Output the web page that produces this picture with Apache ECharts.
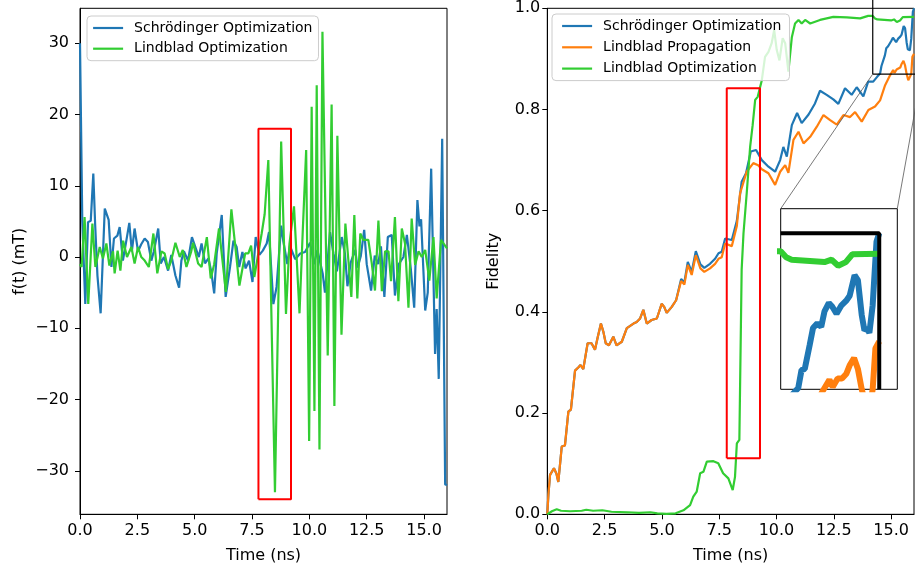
<!DOCTYPE html>
<html>
<head>
<meta charset="utf-8">
<title>Control field and fidelity</title>
<script src="https://cdn.jsdelivr.net/npm/echarts@6/dist/echarts.min.js"></script>
<style>
  html, body { margin: 0; padding: 0; background: #fff; }
  #chart { width: 915px; height: 567px; }
</style>
</head>
<body>
<div id="chart"></div>
<script>
// ---- values ----
var timeTicks = [0, 2.5, 5, 7.5, 10, 12.5, 15];
var fieldTicks = [-30, -20, -10, 0, 10, 20, 30];
var fidTicks = [0, 0.2, 0.4, 0.6, 0.8, 1.0];

// left panel, f(t) in mT
var tSchField = [0, 0.1, 0.23, 0.35, 0.47, 0.58, 0.66, 0.76, 0.9, 1.08, 1.25, 1.37, 1.48, 1.63, 1.73, 1.87, 2.02, 2.15, 2.26, 2.38, 2.53, 2.67, 2.82, 2.96, 3.11, 3.22, 3.41, 3.52, 3.66, 3.84, 3.98, 4.16, 4.32, 4.42, 4.53, 4.71, 4.88, 5.03, 5.18, 5.3, 5.45, 5.6, 5.72, 5.85, 5.96, 6.18, 6.35, 6.54, 6.69, 6.83, 6.94, 7.08, 7.22, 7.37, 7.52, 7.66, 7.82, 7.97, 8.14, 8.24, 8.43, 8.57, 8.77, 8.87, 9.04, 9.15, 9.38, 9.6, 9.81, 10.03, 10.2, 10.35, 10.58, 10.68, 10.9, 11.05, 11.2, 11.41, 11.55, 11.66, 11.8, 12.0, 12.1, 12.24, 12.39, 12.5, 12.69, 12.85, 13.0, 13.12, 13.27, 13.42, 13.59, 13.73, 13.9, 14.1, 14.25, 14.42, 14.57, 14.71, 14.8, 14.87, 15.05, 15.16, 15.31, 15.48, 15.55, 15.64, 15.79, 15.92, 16.0];
var vSchField = [30, 5, -6.6, 4.9, 5.1, 11.7, 4.6, -2.6, -7.9, 6.8, 5.2, -1.4, 2.6, 3.0, 4.2, -0.5, 2.3, 4.8, 0.8, 4.0, 0.8, 1.8, 2.6, 2.1, -0.5, 0.8, 4.0, -0.9, 0, -1.9, 0.3, -2.6, -4.3, -0.5, 0.8, -0.5, 2.8, 1.4, 0, 1.9, -0.9, -0.2, -2.0, -5.1, 0.5, 5.9, -5.6, -1.4, 2.3, 1.4, -1.4, 0.7, -1.6, -0.5, -3.5, 2.8, 0.3, 0.9, 1.9, 3.5, -6.6, -4.2, 4.4, 2.1, -1.0, 1.6, -0.3, 0.5, 0.7, 2.0, -1.0, 1.0, -2.3, -5.0, 3.5, 0.5, -2.0, 2.8, 0.5, -4.1, -0.8, 1.0, -1.5, 0.1, 3.8, -1.0, -4.7, 0.2, -1.0, 1.5, -5.6, 2.8, 3.1, -5.4, -1.0, 0, 3.1, -1.6, -7.1, 8.0, 4.3, 5.3, -7.5, -5.0, 12.4, -13.6, -7.3, -17.1, 16.6, -31.9, -32];

var tLinField = [0, 0.07, 0.2, 0.36, 0.54, 0.67, 0.86, 1.0, 1.15, 1.28, 1.44, 1.51, 1.64, 1.76, 1.88, 2.05, 2.24, 2.38, 2.53, 2.67, 2.82, 3.0, 3.2, 3.37, 3.55, 3.69, 3.84, 3.98, 4.16, 4.35, 4.48, 4.64, 4.85, 4.93, 5.15, 5.3, 5.53, 5.7, 5.85, 6.06, 6.36, 6.6, 6.95, 7.2, 7.34, 7.46, 7.6, 7.92, 8.05, 8.21, 8.5, 8.77, 8.98, 9.13, 9.33, 9.57, 9.71, 9.86, 9.99, 10.1, 10.22, 10.32, 10.44, 10.57, 10.8, 10.97, 11.09, 11.22, 11.4, 11.57, 11.83, 11.96, 12.09, 12.22, 12.35, 12.57, 12.72, 12.86, 13.01, 13.16, 13.3, 13.45, 13.56, 13.73, 13.88, 14.03, 14.17, 14.32, 14.46, 14.61, 14.76, 14.9, 15.05, 15.23, 15.41, 15.55, 15.74, 15.96, 16.0];
var vLinField = [-1.0, -1.4, 5.6, -6.6, 4.7, -1.4, 1.4, -0.2, 1.9, -1.2, 0.8, -2.3, 0.9, -1.9, 2.3, 0, 1.4, -0.9, 1.4, 0, -0.5, -1.4, 3.3, -2.3, 0.8, 0.5, -1.7, -0.5, 2.0, 0, 1.0, -1.4, 0.8, 2.0, -0.9, -1.4, 2.8, -3.0, -1.0, 4.0, -4.9, 6.7, -4.0, 0.5, 0.5, 1.6, -2.8, 3.3, 6.0, 13.6, -33.0, 16.2, -8.0, 1.8, 7.1, -7.9, 3.5, 15.0, -25.8, 21.1, -21.6, 24.1, -27.0, 31.6, -13.8, 21.4, -20.9, 17.0, -10.9, 4.7, -5.6, 5.9, -5.8, 3.3, 2.4, 2.4, -0.9, -4.7, 5.1, -4.8, 0.8, 0.8, -3.4, 5.6, -6.2, 4.0, 1.9, -7.1, 5.4, -1.1, 0.8, 0.0, 1.0, -3.3, 2.8, -5.8, 2.4, 1.4, 1.2];

// right panel, fidelity
var tSchFid = [0, 0.05, 0.12, 0.29, 0.4, 0.48, 0.58, 0.63, 0.77, 0.92, 1.03, 1.21, 1.35, 1.45, 1.57, 1.76, 1.93, 2.08, 2.2, 2.34, 2.45, 2.55, 2.69, 2.88, 3.02, 3.25, 3.47, 3.6, 3.76, 3.9, 4.05, 4.12, 4.19, 4.34, 4.55, 4.78, 4.99, 5.1, 5.21, 5.43, 5.62, 5.84, 5.98, 6.13, 6.3, 6.48, 6.68, 6.85, 7.1, 7.32, 7.47, 7.61, 7.76, 8.05, 8.27, 8.48, 8.67, 8.88, 9.11, 9.36, 9.65, 9.94, 10.16, 10.3, 10.45, 10.67, 10.9, 11.1, 11.4, 11.68, 11.9, 12.19, 12.48, 12.7, 12.99, 13.28, 13.5, 13.79, 14.0, 14.22, 14.4, 14.52, 14.58, 14.64, 14.73, 14.79, 14.87, 14.94, 15.0, 15.08, 15.14, 15.22, 15.31, 15.4, 15.46, 15.55, 15.61, 15.68, 15.73, 15.78, 15.82, 15.88, 15.95, 16.0];
var vSchFid = [0, 0.04, 0.078, 0.091, 0.08, 0.064, 0.11, 0.134, 0.136, 0.203, 0.207, 0.284, 0.29, 0.295, 0.287, 0.338, 0.338, 0.325, 0.35, 0.377, 0.36, 0.338, 0.334, 0.351, 0.334, 0.341, 0.368, 0.372, 0.377, 0.38, 0.387, 0.385, 0.404, 0.377, 0.384, 0.387, 0.416, 0.41, 0.398, 0.41, 0.423, 0.465, 0.458, 0.499, 0.479, 0.52, 0.494, 0.487, 0.495, 0.505, 0.516, 0.519, 0.545, 0.542, 0.58, 0.657, 0.674, 0.717, 0.72, 0.70, 0.687, 0.677, 0.70, 0.726, 0.707, 0.769, 0.793, 0.773, 0.79, 0.812, 0.837, 0.829, 0.82, 0.811, 0.842, 0.829, 0.844, 0.826, 0.855, 0.855, 0.865, 0.871, 0.886, 0.887, 0.907, 0.921, 0.925, 0.922, 0.935, 0.942, 0.939, 0.933, 0.940, 0.944, 0.948, 0.965, 0.961, 0.932, 0.919, 0.921, 0.917, 0.94, 0.993, 1.0];

var tPropFid = [0, 0.05, 0.12, 0.29, 0.4, 0.48, 0.58, 0.63, 0.77, 0.92, 1.03, 1.21, 1.35, 1.45, 1.57, 1.76, 1.93, 2.08, 2.2, 2.34, 2.45, 2.55, 2.69, 2.88, 3.02, 3.25, 3.47, 3.6, 3.76, 3.9, 4.05, 4.12, 4.19, 4.34, 4.55, 4.78, 4.99, 5.1, 5.21, 5.43, 5.62, 5.84, 5.98, 6.13, 6.3, 6.48, 6.68, 6.85, 7.1, 7.32, 7.47, 7.61, 7.76, 8.05, 8.27, 8.41, 8.7, 8.99, 9.2, 9.36, 9.65, 9.94, 10.16, 10.38, 10.52, 10.74, 10.96, 11.18, 11.47, 11.76, 12.05, 12.34, 12.63, 12.92, 13.21, 13.43, 13.72, 14.01, 14.3, 14.52, 14.74, 14.96, 15.09, 15.15, 15.24, 15.32, 15.4, 15.46, 15.54, 15.61, 15.68, 15.75, 15.83, 15.88, 15.93, 16.0];
var vPropFid = [0, 0.04, 0.078, 0.091, 0.08, 0.064, 0.11, 0.134, 0.136, 0.203, 0.207, 0.284, 0.29, 0.295, 0.287, 0.338, 0.338, 0.325, 0.35, 0.377, 0.36, 0.338, 0.334, 0.351, 0.334, 0.341, 0.368, 0.372, 0.377, 0.38, 0.387, 0.385, 0.404, 0.377, 0.384, 0.387, 0.416, 0.41, 0.398, 0.41, 0.423, 0.461, 0.454, 0.493, 0.473, 0.512, 0.486, 0.479, 0.486, 0.495, 0.505, 0.508, 0.535, 0.53, 0.57, 0.634, 0.677, 0.694, 0.69, 0.682, 0.674, 0.651, 0.677, 0.69, 0.675, 0.74, 0.756, 0.733, 0.746, 0.766, 0.789, 0.779, 0.77, 0.789, 0.785, 0.795, 0.776, 0.799, 0.806, 0.818, 0.848, 0.868, 0.878, 0.872, 0.879, 0.879, 0.883, 0.89, 0.896, 0.887, 0.87, 0.858, 0.855, 0.87, 0.904, 0.91];

var tLinFid = [0, 0.2, 0.41, 0.6, 1.0, 1.5, 1.7, 2.0, 2.4, 2.8, 3.5, 4.0, 4.5, 4.8, 5.2, 5.6, 5.94, 6.23, 6.37, 6.52, 6.67, 6.81, 6.96, 7.25, 7.46, 7.67, 7.9, 8.09, 8.19, 8.27, 8.38, 8.48, 8.56, 8.7, 8.85, 8.96, 9.07, 9.18, 9.36, 9.5, 9.65, 9.79, 9.9, 10.01, 10.13, 10.27, 10.38, 10.52, 10.67, 10.81, 10.96, 11.1, 11.25, 11.47, 11.9, 12.48, 13.07, 13.65, 14.0, 14.2, 14.3, 14.4, 15.0, 15.13, 15.25, 15.39, 15.51, 16.0];
var vLinFid = [0, 0.006, 0.01, 0.007, 0.006, 0.007, 0.009, 0.007, 0.008, 0.005, 0.004, 0.003, 0.004, 0.002, 0.001, 0.002, 0.008, 0.018, 0.035, 0.045, 0.081, 0.084, 0.104, 0.105, 0.101, 0.081, 0.071, 0.048, 0.074, 0.14, 0.147, 0.483, 0.555, 0.634, 0.726, 0.769, 0.819, 0.825, 0.858, 0.904, 0.914, 0.931, 0.957, 0.918, 0.897, 0.941, 0.931, 0.875, 0.943, 0.97, 0.977, 0.97, 0.977, 0.97, 0.977, 0.983, 0.982, 0.98, 0.985, 0.985, 0.98, 0.978, 0.976, 0.978, 0.973, 0.976, 0.9825, 0.983];

// highlighted windows and the zoomed region (data coordinates)
var redBoxFieldX = [7.78, 9.2];
var redBoxFieldY = [-34, 18];
var redBoxFidX = [7.83, 9.28];
var redBoxFidY = [0.111, 0.842];
var zoomX = [14.2, 16.33];
var zoomY = [0.87, 1.0205];

function zip(t, v) {
  return t.map(function (x, i) { return [x, v[i]]; });
}
function rect(xr, yr) {
  return [[xr[0], yr[0]], [xr[1], yr[0]], [xr[1], yr[1]], [xr[0], yr[1]], [xr[0], yr[0]]];
}

var FONT = 'DejaVu Sans';
var BLUE = '#1f77b4', ORANGE = '#ff7f0e', GREEN = '#32cd32';
var insetGrid = { left: 780.7, top: 208.7, width: 116.6, height: 180.6 };

function fmtNum(d) {
  return function (v) { return v.toFixed(d).replace('-', '\u2212'); };
}
function xAxisFor(gi) {
  return {
    type: 'value', gridIndex: gi, min: 0, max: 16,
    name: 'Time (ns)', nameLocation: 'middle', nameGap: 34,
    nameTextStyle: { fontFamily: FONT, fontSize: 16, color: '#000' },
    axisLine: { show: true, onZero: false, lineStyle: { color: '#000', width: 1 } },
    axisTick: { show: true, inside: false, length: 5, lineStyle: { color: '#000' }, customValues: timeTicks },
    axisLabel: { customValues: timeTicks, formatter: fmtNum(1), fontFamily: FONT, fontSize: 16, color: '#000', margin: 9 },
    splitLine: { show: false }
  };
}
function yAxisFor(gi, lo, hi, ticks, name, gap, dec, margin) {
  return {
    type: 'value', gridIndex: gi, min: lo, max: hi,
    name: name, nameLocation: 'middle', nameGap: gap,
    nameTextStyle: { fontFamily: FONT, fontSize: 16, color: '#000' },
    axisLine: { show: true, onZero: false, lineStyle: { color: '#000', width: 1 } },
    axisTick: { show: true, inside: false, length: 5, lineStyle: { color: '#000' }, customValues: ticks },
    axisLabel: { customValues: ticks, formatter: fmtNum(dec), fontFamily: FONT, fontSize: 16, color: '#000', margin: margin },
    splitLine: { show: false }
  };
}
function line(name, data, color, width, xi, extra) {
  var s = {
    name: name, type: 'line', data: data, xAxisIndex: xi, yAxisIndex: xi,
    symbol: 'none', showSymbol: false, smooth: false,
    lineStyle: { color: color, width: width }, itemStyle: { color: color },
    emphasis: { disabled: true }, silent: true
  };
  for (var k in extra) s[k] = extra[k];
  return s;
}
function legendAt(left, top, names, pad, gap) {
  return {
    left: left, top: top, orient: 'vertical', data: names,
    itemWidth: 30, itemHeight: 14, itemGap: gap, padding: pad,
    itemStyle: { opacity: 0 },
    lineStyle: { width: 2.2 },
    backgroundColor: 'rgba(255,255,255,0.8)', borderColor: '#cccccc', borderWidth: 1, borderRadius: 4,
    selectedMode: false,
    textStyle: { fontFamily: FONT, fontSize: 14, color: '#000', padding: [0, 0, 0, 6] }
  };
}

var chart = echarts.init(document.getElementById('chart'), null, { renderer: 'canvas' });

chart.setOption({
  animation: false,
  backgroundColor: '#fff',
  legend: [
    legendAt(87, 16, ['Schrödinger Optimization', 'Lindblad Optimization'], [5, 6, 5, 5], 6.7),
    legendAt(552, 14, ['Schrödinger Optimization', 'Lindblad Propagation', 'Lindblad Optimization'], [5, 8, 5, 9], 7.3)
  ],
  grid: [
    { left: 80, top: 8.3, width: 367, height: 506, show: true, borderColor: '#000', borderWidth: 1, outerBoundsMode: 'none' },
    { left: 547.3, top: 8.3, width: 366.7, height: 506, show: true, borderColor: '#000', borderWidth: 1, outerBoundsMode: 'none' },
    { left: insetGrid.left, top: insetGrid.top, width: insetGrid.width, height: insetGrid.height, show: true,
      backgroundColor: '#fff', borderColor: '#000', borderWidth: 1, outerBoundsMode: 'none' }
  ],
  xAxis: [
    xAxisFor(0),
    xAxisFor(1),
    { type: 'value', gridIndex: 2, min: zoomX[0], max: zoomX[1], show: false }
  ],
  yAxis: [
    yAxisFor(0, -36.1, 34.9, fieldTicks, 'f(t) (mT)', 52, 0, 11),
    yAxisFor(1, 0, 1, fidTicks, 'Fidelity', 45, 1, 7),
    { type: 'value', gridIndex: 2, min: zoomY[0], max: zoomY[1], show: false }
  ],
  series: [
    line('Schrödinger Optimization', zip(tSchField, vSchField), BLUE, 2.2, 0),
    line('Lindblad Optimization', zip(tLinField, vLinField), GREEN, 2.2, 0),
    line('window A', rect(redBoxFieldX, redBoxFieldY), '#ff0000', 2, 0),

    line('Schrödinger Optimization', zip(tSchFid, vSchFid), BLUE, 2.2, 1),
    line('Lindblad Propagation', zip(tPropFid, vPropFid), ORANGE, 2.2, 1),
    line('Lindblad Optimization', zip(tLinFid, vLinFid), GREEN, 2.2, 1),
    line('window B', rect(redBoxFidX, redBoxFidY), '#ff0000', 2, 1),
    line('zoom box', rect(zoomX, zoomY), '#000', 1.2, 1, { clip: false }),

    line('inset S', zip(tSchFid, vSchFid), BLUE, 6, 2),
    line('inset P', zip(tPropFid, vPropFid), ORANGE, 6, 2),
    line('inset L', zip(tLinFid, vLinFid), GREEN, 6, 2),
    line('inset frame', [[zoomX[0], 1], [16, 1], [16, zoomY[0]]], '#000', 4, 2)
  ]
});

// connector lines from the zoom box to the inset corners
var pA = chart.convertToPixel({ xAxisIndex: 1, yAxisIndex: 1 }, [zoomX[0], zoomY[0]]);
var pB = chart.convertToPixel({ xAxisIndex: 1, yAxisIndex: 1 }, [zoomX[1], zoomY[0]]);
chart.setOption({
  graphic: [
    { type: 'line', silent: true, z: 5,
      shape: { x1: pA[0], y1: pA[1], x2: insetGrid.left, y2: insetGrid.top },
      style: { stroke: '#555', lineWidth: 0.8 } },
    { type: 'line', silent: true, z: 5,
      shape: { x1: pB[0], y1: pB[1], x2: insetGrid.left + insetGrid.width, y2: insetGrid.top },
      style: { stroke: '#555', lineWidth: 0.8 } }
  ]
});
</script>
</body>
</html>
